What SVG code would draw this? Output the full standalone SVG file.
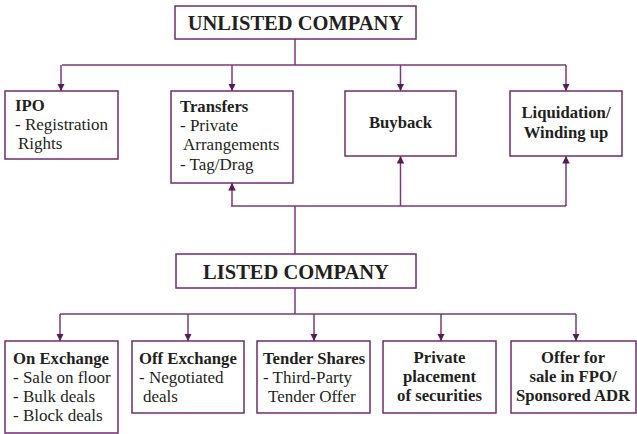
<svg xmlns="http://www.w3.org/2000/svg" width="637" height="434" viewBox="0 0 637 434">
<style>
.box{fill:#fff;stroke:#6e2c6e;stroke-width:1.5}
.ln{fill:none;stroke:#7a3a7a;stroke-width:1.5}
text{font-family:'Liberation Serif','DejaVu Serif',serif;font-size:17px;fill:#231f20}
.b{font-weight:bold;font-size:16.7px}
.c{text-anchor:middle}
.t{font-size:20.5px;font-weight:bold}
</style>
<defs>
<marker id="ah" viewBox="0 0 10 10" refX="10" refY="5" markerWidth="5" markerHeight="5" orient="auto" markerUnits="strokeWidth">
<path d="M0,0 L10,5 L0,10 Z" fill="#5a1a5a"/>
</marker>
</defs>
<g id="connectors">
<path class="ln" d="M295,39 V65 M62,65 H566"/>
<path class="ln" d="M61,65 V91" marker-end="url(#ah)"/>
<path class="ln" d="M232,65 V91" marker-end="url(#ah)"/>
<path class="ln" d="M400.5,65 V91" marker-end="url(#ah)"/>
<path class="ln" d="M566,65 V91" marker-end="url(#ah)"/>
<path class="ln" d="M295,254 V206 M231,206 H566"/>
<path class="ln" d="M232,206 V183" marker-end="url(#ah)"/>
<path class="ln" d="M400.5,206 V156" marker-end="url(#ah)"/>
<path class="ln" d="M566,206 V156" marker-end="url(#ah)"/>
<path class="ln" d="M295,288 V314 M60,314 H576"/>
<path class="ln" d="M60,314 V341" marker-end="url(#ah)"/>
<path class="ln" d="M188,314 V341" marker-end="url(#ah)"/>
<path class="ln" d="M314,314 V341" marker-end="url(#ah)"/>
<path class="ln" d="M441,314 V341" marker-end="url(#ah)"/>
<path class="ln" d="M576,314 V341" marker-end="url(#ah)"/>
</g>
<g id="unlisted">
<rect class="box" x="175" y="6" width="241" height="33"/>
<text class="t c" x="295.5" y="29.5">UNLISTED COMPANY</text>
</g>
<g id="ipo">
<rect class="box" x="5" y="91" width="113" height="68"/>
<text class="b" x="15" y="111">IPO</text>
<text x="15" y="130">- Registration</text>
<text x="18" y="149">Rights</text>
</g>
<g id="transfers">
<rect class="box" x="171" y="91" width="122" height="92"/>
<text class="b" x="180" y="112">Transfers</text>
<text x="180" y="131">- Private</text>
<text x="183" y="150">Arrangements</text>
<text x="180" y="170">- Tag/Drag</text>
</g>
<g id="buyback">
<rect class="box" x="345" y="91" width="111" height="65"/>
<text class="b c" x="400.5" y="128">Buyback</text>
</g>
<g id="liquidation">
<rect class="box" x="510" y="91" width="112" height="65"/>
<text class="b c" x="566" y="118">Liquidation/</text>
<text class="b c" x="566" y="138">Winding up</text>
</g>
<g id="listed">
<rect class="box" x="176" y="254" width="240" height="34"/>
<text class="t c" x="296" y="278.5">LISTED COMPANY</text>
</g>
<g id="on-exchange">
<rect class="box" x="5" y="341" width="113" height="92"/>
<text class="b" x="13" y="364">On Exchange</text>
<text x="13" y="383">- Sale on floor</text>
<text x="13" y="402">- Bulk deals</text>
<text x="13" y="421">- Block deals</text>
</g>
<g id="off-exchange">
<rect class="box" x="132" y="341" width="112" height="72"/>
<text class="b" x="139" y="364">Off Exchange</text>
<text x="139" y="383">- Negotiated</text>
<text x="143" y="402">deals</text>
</g>
<g id="tender">
<rect class="box" x="257" y="341" width="113" height="72"/>
<text class="b" x="263" y="364">Tender Shares</text>
<text x="263" y="383">- Third-Party</text>
<text x="268" y="402">Tender Offer</text>
</g>
<g id="private">
<rect class="box" x="383" y="341" width="113" height="72"/>
<text class="b c" x="439.5" y="363">Private</text>
<text class="b c" x="439.5" y="382">placement</text>
<text class="b c" x="439.5" y="401">of securities</text>
</g>
<g id="offer">
<rect class="box" x="511" y="341" width="125" height="72"/>
<text class="b c" x="573" y="363">Offer for</text>
<text class="b c" x="573" y="382">sale in FPO/</text>
<text class="b c" x="573" y="401">Sponsored ADR</text>
</g>
</svg>
